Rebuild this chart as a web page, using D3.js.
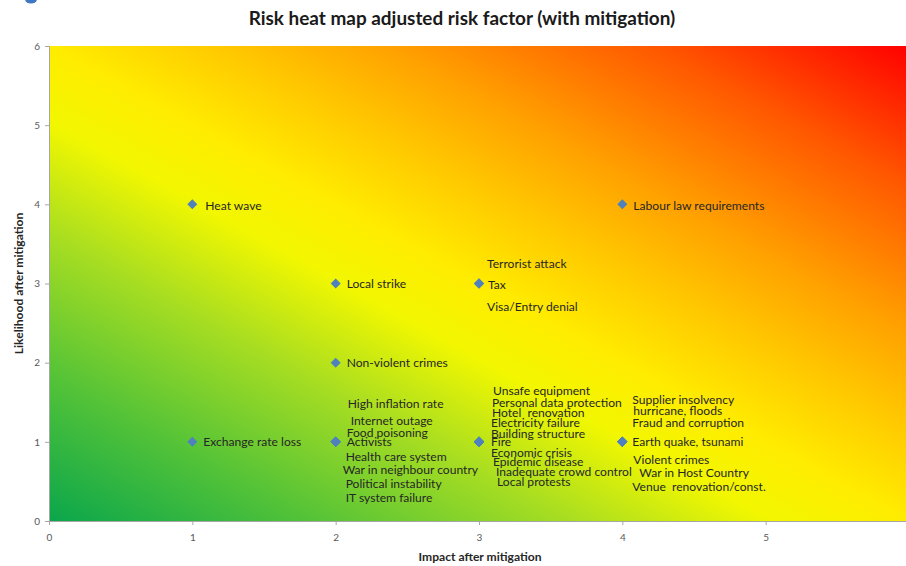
<!DOCTYPE html>
<html>
<head>
<meta charset="utf-8">
<script src="https://cdn.jsdelivr.net/npm/d3@7"></script>
<style>
  body { margin: 0; background: #fff; }
  svg { display: block; }
  text { white-space: pre; }
</style>
</head>
<body>
<svg id="chart" width="906" height="566"></svg>
<script>
// ---- chart data ----
const titleText = "Risk heat map adjusted risk factor (with mitigation)";
const xTitle = "Impact after mitigation";
const yTitle = "Likelihood after mitigation";
const impactTicks = [0, 1, 2, 3, 4, 5];
const likelihoodTicks = [0, 1, 2, 3, 4, 5, 6];

const riskNames = [
  "Heat wave", "Exchange rate loss", "Local strike", "Non-violent crimes",
  "High inflation rate", "Internet outage", "Food poisoning", "Activists",
  "Health care system", "War in neighbour country", "Political instability", "IT system failure",
  "Terrorist attack", "Tax", "Visa/Entry denial",
  "Unsafe equipment", "Personal data protection", "Hotel  renovation", "Electricity failure",
  "Building structure", "Fire", "Economic crisis", "Epidemic disease",
  "Inadequate crowd control", "Local protests",
  "Labour law requirements",
  "Supplier insolvency", "hurricane, floods", "Fraud and corruption", "Earth quake, tsunami",
  "Violent crimes", "War in Host Country", "Venue  renovation/const."
];
const riskImpact = [
  1, 1, 2, 2,
  2, 2, 2, 2,
  2, 2, 2, 2,
  3, 3, 3,
  3, 3, 3, 3,
  3, 3, 3, 3,
  3, 3,
  4,
  4, 4, 4, 4,
  4, 4, 4
];
const riskLikelihood = [
  4, 1, 3, 2,
  1, 1, 1, 1,
  1, 1, 1, 1,
  3, 3, 3,
  1, 1, 1, 1,
  1, 1, 1, 1,
  1, 1,
  4,
  1, 1, 1, 1,
  1, 1, 1
];

// ---- label layout: pixel nudges of each label from its marker ----
const labelNudge = [
  [13, 1], [11, 0], [11, 0], [11, 0],
  [12, -38], [15, -21], [11, -9], [11, 0],
  [10, 15], [7, 28], [10, 42], [10, 56],
  [8, -20], [9, 1], [8, 23],
  [14, -51], [13, -39], [13, -29], [12, -19],
  [12, -8], [12, 0], [12, 11], [14, 20],
  [17, 30], [18, 40],
  [11, 1],
  [10, -42], [11, -31], [10, -19], [10, 0],
  [11, 18], [17, 31], [10, 45]
];

// ---- layout ----
const W = 906, H = 566;
const plot = { left: 49, top: 46, right: 909, bottom: 521 };
const FONT = "Lato, 'Open Sans', 'Noto Sans', sans-serif";

const svg = d3.select("#chart");

const x = d3.scaleLinear().domain([0, 6]).range([plot.left, plot.right]);
const y = d3.scaleLinear().domain([0, 6]).range([plot.bottom, plot.top]);

// size a font so that a sample string spans a given width
function fitSize(sample, target, weight, base) {
  const t = svg.append("text").attr("font-family", FONT)
    .attr("font-weight", weight).attr("font-size", base).text(sample);
  const w = t.node().getComputedTextLength();
  t.remove();
  return base * target / w;
}
const labelSize = fitSize("Personal data protection", 130, "normal", 11);
const titleSize = fitSize(titleText, 427, "bold", 16);
const axisTitleSize = fitSize(xTitle, 123, "bold", 11);

// ---- heat gradient: green (low) through yellow to red (high) ----
const defs = svg.append("defs");
const grad = defs.append("linearGradient").attr("id", "heat")
  .attr("x1", 0).attr("y1", 1).attr("x2", 1).attr("y2", 0);
const stops = [
  [0, "#0aa64c"], [0.15, "#52c238"], [0.3, "#a6dd22"], [0.42, "#f2f700"],
  [0.5, "#ffec00"], [0.6, "#ffc800"], [0.7, "#ffa000"], [0.85, "#ff5800"], [1, "#ff0000"]
];
grad.selectAll("stop").data(stops).join("stop")
  .attr("offset", d => d[0]).attr("stop-color", d => d[1]);

svg.append("rect")
  .attr("x", x(0)).attr("y", y(6))
  .attr("width", x(6) - x(0)).attr("height", y(0) - y(6))
  .attr("fill", "url(#heat)");

// ---- axes ----
const xAxis = d3.axisBottom(x).tickValues(impactTicks).tickSize(4).tickPadding(9).tickFormat(d3.format("d"));
const yAxis = d3.axisLeft(y).tickValues(likelihoodTicks).tickSize(4).tickPadding(5).tickFormat(d3.format("d"));

const gx = svg.append("g").attr("transform", `translate(0,${y(0)})`).call(xAxis);
const gy = svg.append("g").attr("transform", `translate(${x(0)},0)`).call(yAxis);
[gx, gy].forEach(g => {
  g.select(".domain").attr("stroke", "#a6a6a6");
  g.selectAll(".tick line").attr("stroke", "#a6a6a6");
  g.selectAll(".tick text").attr("fill", "#595959")
    .attr("font-family", FONT).attr("font-size", 10);
});

// axis titles
svg.append("text")
  .attr("x", 480).attr("y", 561)
  .attr("text-anchor", "middle")
  .attr("font-family", FONT).attr("font-weight", "bold").attr("font-size", axisTitleSize)
  .attr("fill", "#262626").text(xTitle);

svg.append("text")
  .attr("transform", `translate(23,${(plot.top + plot.bottom) / 2}) rotate(-90)`)
  .attr("text-anchor", "middle")
  .attr("font-family", FONT).attr("font-weight", "bold").attr("font-size", axisTitleSize)
  .attr("fill", "#262626").text(yTitle);

// chart title
svg.append("text")
  .attr("x", 462).attr("y", 25)
  .attr("text-anchor", "middle")
  .attr("font-family", FONT).attr("font-weight", "bold").attr("font-size", titleSize)
  .attr("fill", "#1a1a1a").text(titleText);

// corner badge (partially off-canvas)
svg.append("ellipse").attr("cx", 31).attr("cy", -1).attr("rx", 6).attr("ry", 4.5)
  .attr("fill", "#3f77c2");

// ---- risks ----
const risks = riskNames.map((name, i) => ({
  name, impact: riskImpact[i], likelihood: riskLikelihood[i], nudge: labelNudge[i]
}));

const diamond = d3.symbol(d3.symbolSquare, 50);
svg.append("g").selectAll("path").data(risks).join("path")
  .attr("d", diamond)
  .attr("transform", d => `translate(${x(d.impact)},${y(d.likelihood)}) rotate(45)`)
  .attr("fill", "#4f81bd");

svg.append("g").selectAll("text").data(risks).join("text")
  .attr("x", d => x(d.impact) + d.nudge[0])
  .attr("y", d => y(d.likelihood) + d.nudge[1])
  .attr("dy", "0.35em")
  .attr("font-family", FONT).attr("font-size", labelSize)
  .attr("fill", "#262626")
  .text(d => d.name);
</script>
</body>
</html>
